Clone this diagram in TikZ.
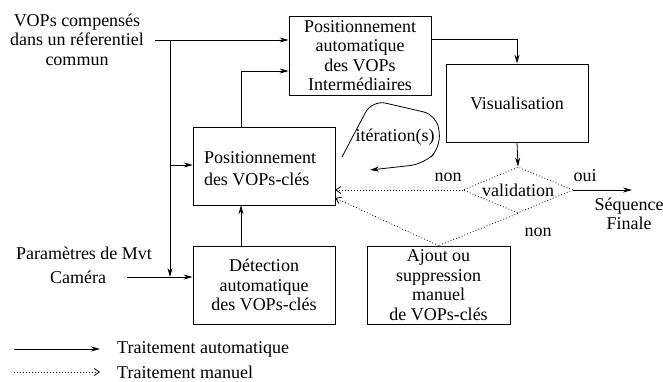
\documentclass[tikz,border=0pt]{standalone}
\usepackage{fontspec}
\setmainfont{Liberation Serif}
\usetikzlibrary{arrows.meta,shapes.geometric,calc}
\begin{document}
\begin{tikzpicture}[x=1pt,y=-1pt,
  every node/.style={font=\fontsize{18}{19.5}\selectfont},
  box/.style={draw,line width=0.8pt,inner sep=0pt,align=center},
  arr/.style={line width=0.8pt,-{Stealth[length=9pt,width=5pt]}},
  dotarr/.style={line width=0.8pt,dash pattern=on 0.8pt off 2.2pt,-{Straight Barb[length=5pt,width=7pt]}},
  dotline/.style={line width=0.8pt,dash pattern=on 0.8pt off 2.2pt},
  lbl/.style={inner sep=0pt}]
\useasboundingbox (0,0) rectangle (663,382);
% boxes
\node[box,minimum width=142pt,minimum height=79pt] (pa) at (360,55.5) {Positionnement\\automatique\\des VOPs\\Intermédiaires};
\node[box,minimum width=142pt,minimum height=78pt] (vis) at (517,103) {Visualisation};
\draw[line width=0.8pt] (193,127) rectangle (335,205);
\node[inner sep=0pt,minimum width=142pt,minimum height=78pt] (pk) at (264,166) {};
\node[lbl,align=left] (pkt) at (260,169) {Positionnement\\[2.5pt]des VOPs-clés};
\node[box,minimum width=142pt,minimum height=78pt] (det) at (264,285) {Détection\\automatique\\des VOPs-clés};
\node[box,minimum width=143pt,minimum height=78pt] (aj) at (438.5,285) {Ajout ou\\suppression\\manuel\\de VOPs-clés};
\node[draw,shape=diamond,dotline,inner sep=0pt,aspect=2.39,minimum width=110pt,minimum height=46pt] (val) at (518,190) {validation};
% texts
\node[lbl,align=center] (vin) at (77,39.5) {VOPs compensés\\dans un réferentiel\\commun};
\node[lbl] (par) at (84,253) {Paramètres de Mvt};
\node[lbl] (cam) at (78,277) {Caméra};
\node[lbl,align=center] (seq) at (629,214) {Séquence\\Finale};
\node[lbl] (oui) at (585,176) {oui};
\node[lbl] (non1) at (448,177) {non};
\node[lbl] (non2) at (538,232) {non};
\node[lbl] (it) at (395,137) {itération(s)};
% coordinates
\coordinate (in) at (155,40);
\coordinate (j1) at (170,40);
\coordinate (j2) at (170,165);
\coordinate (c1) at (127,277);
\coordinate (out) at (632,190);
% solid connectors
\draw[arr] (in) -- (in -| pa.west);
\draw[arr] (j1) -- (j1 |- c1);
\draw[arr] (j2) -- (j2 -| pk.west);
\draw[arr] (c1) -- (c1 -| det.west);
\draw[arr] ([xshift=-23pt]det.north) -- ([xshift=-23pt]pk.south);
\draw[arr] ([xshift=-23pt]pk.north) |- ([yshift=-15.5pt]pa.west);
\draw[arr] ([yshift=16.5pt]pa.east) -| (vis.north);
\draw[arr] (vis.south) -- (val.north);
\draw[arr] (val.east) -- (out);
% dotted connectors
\draw[dotarr] (val.west) -- (val.west -| pk.east);
\draw[dotline] (val.south) -- (aj.north);
\draw[dotarr] (aj.north) -- ([yshift=-32pt]pk.east);
% iteration loop
\coordinate (l0) at (342,157);
\coordinate (l5) at (370,170);
\draw[arr,rounded corners=14pt] (l0) -- (372,100) -- (437,115) -- (441,147) -- (424,164) -- (l5);
% legend
\coordinate (la1) at (14,349);
\coordinate (la2) at (100,349);
\coordinate (lb1) at (14,372);
\coordinate (lb2) at (100,372);
\draw[arr] (la1) -- (la2);
\draw[dotarr] (lb1) -- (lb2);
\node[lbl,anchor=west] (lt1) at (117,349) {Traitement automatique};
\node[lbl,anchor=west] (lt2) at (117,372) {Traitement manuel};
\end{tikzpicture}
\end{document}
